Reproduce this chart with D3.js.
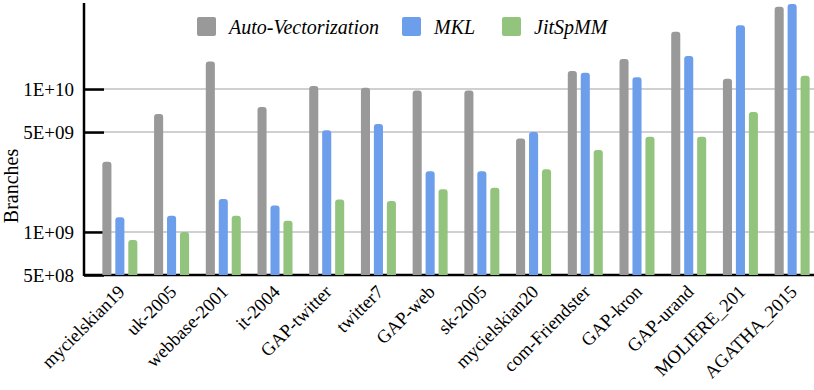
<!DOCTYPE html>
<html>
<head>
<meta charset="utf-8">
<script src="https://cdn.jsdelivr.net/npm/d3@7"></script>
<style>
  body { margin: 0; background: #fff; }
  text { font-family: "Liberation Serif", "Times New Roman", serif; fill: #000; }
</style>
</head>
<body>
<script>
var svg_width = 814;
var svg_height = 390;

var datasets = ["mycielskian19", "uk-2005", "webbase-2001", "it-2004", "GAP-twitter", "twitter7",
  "GAP-web", "sk-2005", "mycielskian20", "com-Friendster", "GAP-kron", "GAP-urand",
  "MOLIERE_201", "AGATHA_2015"];
var seriesNames = ["Auto-Vectorization", "MKL", "JitSpMM"];
var seriesColors = ["#999999", "#6d9eeb", "#93c47d"];

var autoVec = [3.1e9, 6.7e9, 1.56e10, 7.5e9, 1.05e10, 1.02e10, 9.75e9, 9.75e9, 4.5e9, 1.34e10, 1.62e10, 2.52e10, 1.18e10, 3.77e10];
var mkl = [1.27e9, 1.3e9, 1.7e9, 1.53e9, 5.15e9, 5.7e9, 2.66e9, 2.66e9, 5.0e9, 1.3e10, 1.21e10, 1.7e10, 2.8e10, 3.94e10];
var jitspmm = [8.8e8, 1.0e9, 1.3e9, 1.2e9, 1.69e9, 1.65e9, 1.99e9, 2.04e9, 2.75e9, 3.75e9, 4.64e9, 4.64e9, 6.9e9, 1.24e10];

var yTicks = [5e8, 1e9, 5e9, 1e10];
var yTickLabels = ["5E+08", "1E+09", "5E+09", "1E+10"];

var margin = { top: 3, left: 84, bottom: 275 };

var svg = d3.select("body")
  .append("svg")
  .attr("width", svg_width)
  .attr("height", svg_height);

var x0 = d3.scaleBand().domain(datasets).range([94, 818]).padding(0);
var x1 = d3.scaleBand().domain(seriesNames).range([-17.5, 17.5]).paddingInner(0.3);
var y = d3.scaleLog().domain([5e8, 4e10]).range([margin.bottom, margin.top]);

// gridlines
svg.append("g")
  .selectAll("line")
  .data(yTicks.slice(1))
  .enter()
  .append("line")
  .attr("x1", margin.left)
  .attr("x2", svg_width)
  .attr("y1", d => y(d))
  .attr("y2", d => y(d))
  .attr("stroke", "#d0d0d0")
  .attr("stroke-width", 2);

// y axis with inward ticks
var leftAxis = d3.axisRight(y)
  .tickValues(yTicks)
  .tickSize(20)
  .tickFormat("");

var yAxisG = svg.append("g")
  .attr("transform", `translate(${margin.left}, 0)`)
  .call(leftAxis);
yAxisG.select(".domain").remove();
yAxisG.selectAll("line").attr("stroke", "#000").attr("stroke-width", 2.5);

svg.append("line")
  .attr("x1", margin.left).attr("x2", margin.left)
  .attr("y1", margin.top).attr("y2", margin.bottom + 1)
  .attr("stroke", "#000").attr("stroke-width", 2.5);

svg.append("line")
  .attr("x1", margin.left).attr("x2", svg_width)
  .attr("y1", margin.bottom).attr("y2", margin.bottom)
  .attr("stroke", "#000").attr("stroke-width", 2.5);

svg.append("g")
  .selectAll("text")
  .data(yTicks)
  .enter()
  .append("text")
  .attr("x", 74)
  .attr("y", d => y(d))
  .attr("dy", "0.35em")
  .attr("text-anchor", "end")
  .style("font-size", "19px")
  .text((d, i) => yTickLabels[i]);

// bars
var seriesValues = [autoVec, mkl, jitspmm];
var barData = [];
datasets.forEach(function(name, i) {
  seriesNames.forEach(function(s, j) {
    barData.push({ name: name, series: s, value: seriesValues[j][i], color: seriesColors[j] });
  });
});

svg.append("g")
  .selectAll("path")
  .data(barData)
  .enter()
  .append("path")
  .attr("fill", d => d.color)
  .attr("d", function(d) {
    var bx = x0(d.name) + x0.bandwidth() / 2 + x1(d.series);
    var bw = x1.bandwidth();
    var top = y(d.value);
    var bottom = margin.bottom;
    var r = 3;
    return `M${bx},${bottom} L${bx},${top + r} Q${bx},${top} ${bx + r},${top} L${bx + bw - r},${top} Q${bx + bw},${top} ${bx + bw},${top + r} L${bx + bw},${bottom} Z`;
  });

// x labels
svg.append("g")
  .selectAll("text")
  .data(datasets)
  .enter()
  .append("text")
  .attr("text-anchor", "end")
  .attr("transform", d => `translate(${x0(d) + x0.bandwidth() / 2 + 6}, 293) rotate(-45)`)
  .style("font-size", "18.5px")
  .text(d => d);

// y title
svg.append("text")
  .attr("transform", "translate(18, 186) rotate(-90)")
  .attr("text-anchor", "middle")
  .style("font-size", "20px")
  .text("Branches");

// legend
var legendX = [197, 402, 502];
var legend = svg.append("g")
  .selectAll("g")
  .data(seriesNames)
  .enter()
  .append("g")
  .attr("transform", (d, i) => `translate(${legendX[i]}, 17)`);

legend.append("rect")
  .attr("width", 19)
  .attr("height", 19)
  .attr("rx", 2)
  .attr("fill", (d, i) => seriesColors[i]);

legend.append("text")
  .attr("x", 32)
  .attr("y", 10)
  .attr("dy", "0.35em")
  .style("font-size", "20px")
  .style("font-style", "italic")
  .text(d => d);
</script>
</body>
</html>
